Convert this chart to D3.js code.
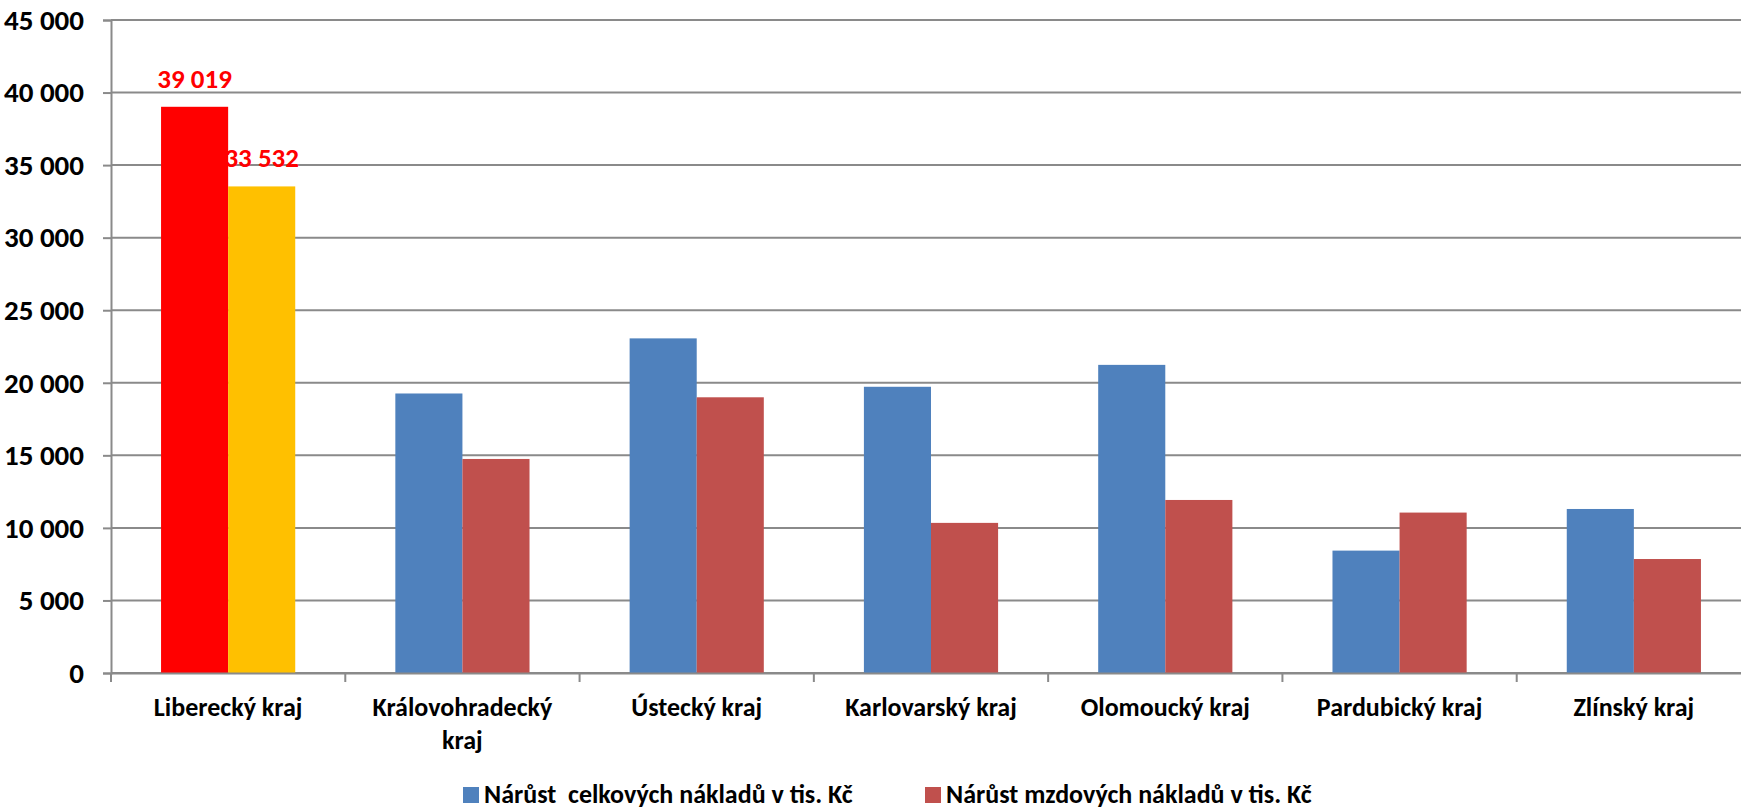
<!DOCTYPE html>
<html>
<head>
<meta charset="utf-8">
<script src="https://cdn.jsdelivr.net/npm/d3@7"></script>
<style>
  html, body { margin: 0; padding: 0; background: #fff; }
  svg { display: block; }
  text { font-family: Carlito, "Liberation Sans Narrow", "Liberation Sans", sans-serif; font-weight: bold; }
</style>
</head>
<body>
<svg id="chart" width="1741" height="809"></svg>
<script>
// Regions (kraje)
const categories = ["Liberecký kraj", "Královohradecký kraj", "Ústecký kraj", "Karlovarský kraj",
                    "Olomoucký kraj", "Pardubický kraj", "Zlínský kraj"];
// Category labels split over lines
const categoryLines = [["Liberecký kraj"], ["Královohradecký", "kraj"], ["Ústecký kraj"], ["Karlovarský kraj"],
                       ["Olomoucký kraj"], ["Pardubický kraj"], ["Zlínský kraj"]];
// Increase of total costs (thousand CZK)
const totalCosts = [39019, 19262, 23060, 19724, 21234, 8434, 11303];
// Increase of wage costs (thousand CZK)
const wageCosts = [33532, 14750, 19000, 10345, 11924, 11055, 7855];
const seriesNames = ["Nárůst  celkových nákladů v tis. Kč", "Nárůst mzdových nákladů v tis. Kč"];
const yTicks = [0, 5000, 10000, 15000, 20000, 25000, 30000, 35000, 40000, 45000];
// Only the first region gets value labels
const labelledCategory = "Liberecký kraj";

const seriesColors = ["#4F81BD", "#C0504D"];
const highlightColors = ["#FF0000", "#FFC000"];

const svg = d3.select("#chart");
const plotLeft = 111, plotRight = 1751, plotTop = 20, plotBottom = 673;
const fontSize = "26px";

const x0 = d3.scaleBand().domain(categories).range([plotLeft, plotRight]).padding(0);
const x1 = d3.scaleBand().domain([0, 1]).range([0, x0.bandwidth()]).paddingInner(0).paddingOuter(0.746);
const y = d3.scaleLinear().domain([0, 45000]).range([plotBottom, plotTop]);

const fmt = v => d3.format(",")(v).replace(/,/g, " ");

// Horizontal gridlines
svg.append("g")
  .selectAll("line").data(yTicks).join("line")
  .attr("x1", plotLeft).attr("x2", 1741)
  .attr("y1", d => y(d)).attr("y2", d => y(d))
  .attr("stroke", "#8a8a8a").attr("stroke-width", 2);

// Y axis
const yAxis = d3.axisLeft(y).tickValues(yTicks).tickSize(8).tickPadding(19).tickFormat(fmt);
const gy = svg.append("g").attr("transform", `translate(${plotLeft},0)`).call(yAxis);
gy.attr("font-family", null).attr("font-size", null);
gy.select(".domain").attr("stroke", "#8a8a8a").attr("stroke-width", 2);
gy.selectAll(".tick line").attr("stroke", "#8a8a8a").attr("stroke-width", 2);
gy.selectAll(".tick text").attr("fill", "#000").style("font-size", "29px");

// Bars
const rows = categories.map((c, i) => ({ cat: c, i, vals: [totalCosts[i], wageCosts[i]] }));
const groups = svg.append("g").selectAll("g").data(rows).join("g")
  .attr("transform", d => `translate(${x0(d.cat)},0)`);
groups.selectAll("rect").data(d => d.vals.map((v, s) => ({ v, s, cat: d.cat }))).join("rect")
  .attr("x", d => x1(d.s))
  .attr("width", x1.bandwidth())
  .attr("y", d => y(d.v))
  .attr("height", d => y(0) - y(d.v))
  .attr("fill", d => d.cat === labelledCategory ? highlightColors[d.s] : seriesColors[d.s]);

// Value labels
groups.filter(d => d.cat === labelledCategory).selectAll("text.val")
  .data(d => d.vals.map((v, s) => ({ v, s }))).join("text")
  .attr("class", "val")
  .attr("x", d => x1(d.s) + x1.bandwidth() / 2)
  .attr("y", d => y(d.v) - 19)
  .attr("text-anchor", "middle")
  .attr("fill", "#FF0000")
  .style("font-size", "27px")
  .text(d => fmt(d.v));

// X axis line and category separators
const xAxis = d3.axisBottom(x0).tickSize(0).tickFormat("");
const gx = svg.append("g").attr("transform", `translate(0,${plotBottom})`).call(xAxis);
gx.select(".domain").attr("stroke", "#8a8a8a").attr("stroke-width", 2);
gx.selectAll(".tick").remove();
const boundaries = categories.map(c => x0(c)).concat([x0(categories[categories.length - 1]) + x0.bandwidth()]);
gx.selectAll("line.sep").data(boundaries).join("line")
  .attr("class", "sep")
  .attr("x1", d => d).attr("x2", d => d)
  .attr("y1", 0).attr("y2", 9)
  .attr("stroke", "#8a8a8a").attr("stroke-width", 2);

// Category labels
svg.append("g").selectAll("text").data(categories).join("text")
  .attr("text-anchor", "middle")
  .attr("fill", "#000")
  .style("font-size", fontSize)
  .each(function (d, i) {
    const t = d3.select(this);
    const cx = x0(d) + x0.bandwidth() / 2;
    categoryLines[i].forEach((line, k) => {
      t.append("tspan").attr("x", cx).attr("y", 716 + k * 33).text(line);
    });
  });

// Legend
const legendX = [463, 925];
const legend = svg.append("g").selectAll("g").data(seriesNames).join("g")
  .attr("transform", (d, i) => `translate(${legendX[i]},787)`);
legend.append("rect").attr("width", 16).attr("height", 16).attr("fill", (d, i) => seriesColors[i]);
legend.append("text").attr("x", 21).attr("y", 16)
  .attr("fill", "#000").style("font-size", fontSize)
  .style("white-space", "pre")
  .text(d => d);
</script>
</body>
</html>
